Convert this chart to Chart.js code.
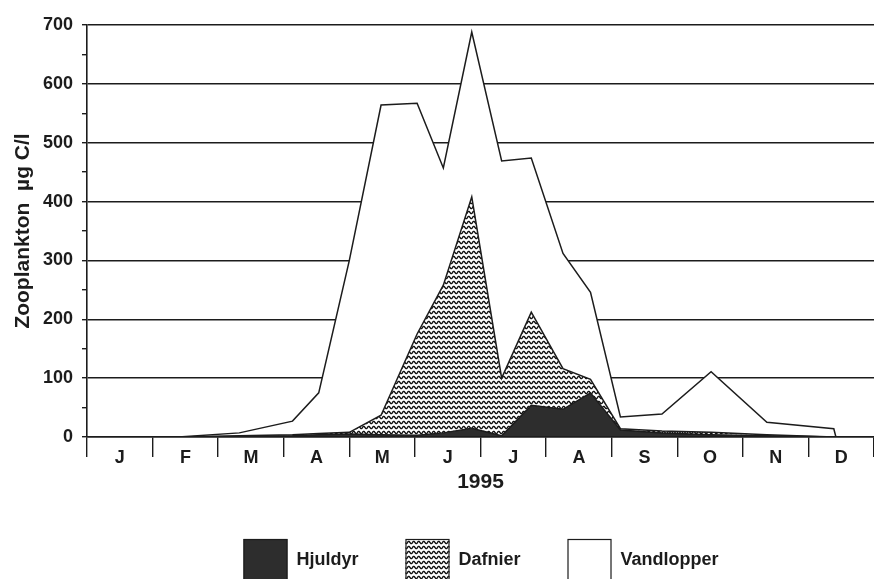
<!DOCTYPE html>
<html>
<head>
<meta charset="utf-8">
<script src="https://cdn.jsdelivr.net/npm/chart.js@4/dist/chart.umd.min.js"></script>
<style>
  html, body { margin: 0; padding: 0; background: #fff; overflow: hidden; }
  #wrap { width: 874px; height: 579px; }
</style>
</head>
<body>
<div id="wrap"><canvas id="c" width="874" height="579"></canvas></div>
<script>
// Zooplankton biomass 1995, µg C/l, per sampling date
const sampleDates = ['1995-02-12','1995-03-11','1995-04-05','1995-04-17','1995-05-01','1995-05-16',
                     '1995-06-02','1995-06-14','1995-06-27','1995-07-11','1995-07-25','1995-08-09',
                     '1995-08-22','1995-09-05','1995-09-24','1995-10-17','1995-11-12','1995-12-13','1995-12-14'];
const hjuldyr    = [0, 1, 2, 4, 5, 4, 3, 7, 15, 2, 54, 47, 75, 12, 7, 4, 2, 0, 0];
const dafnier    = [0, 1, 2, 2, 3, 33, 172, 251, 393, 98, 158, 69, 23, 2, 3, 4, 2, 0, 0];
const vandlopper = [0, 5, 23, 69, 292, 527, 392, 199, 280, 369, 262, 196, 148, 20, 29, 103, 21, 14, 0];
const monthLabels = ['J','F','M','A','M','J','J','A','S','O','N','D'];
const yearLabel = '1995';
const yTitle = 'Zooplankton  µg C/l';
const seriesNames = ['Hjuldyr', 'Dafnier', 'Vandlopper'];

// date -> position on a 0..12 month axis
function monthPos(iso) {
  const [y, m, d] = iso.split('-').map(Number);
  const days = new Date(y, m, 0).getDate();
  return (m - 1) + (d - 1) / days;
}
const xs = sampleDates.map(monthPos);
const pts = arr => arr.map((v, i) => ({ x: xs[i], y: v }));

// wavy horizontal hatch
function wavePattern() {
  const c = document.createElement('canvas');
  c.width = 5; c.height = 5;
  const g = c.getContext('2d');
  g.fillStyle = '#ffffff';
  g.fillRect(0, 0, 5, 5);
  g.strokeStyle = '#111111';
  g.lineWidth = 1.3;
  g.beginPath();
  for (let i = -2; i <= 12; i++) {
    const x = i * 0.5;
    const y = 2.5 + 1.2 * Math.sin(x / 5 * 2 * Math.PI);
    if (i === -2) g.moveTo(x, y); else g.lineTo(x, y);
  }
  g.stroke();
  return g.createPattern(c, 'repeat');
}

const INK = '#1c1c1c';
const FONT = "'Liberation Sans', Arial, sans-serif";

// legend drawn under the plot
const boxLegend = {
  id: 'boxLegend',
  afterDraw(chart) {
    const ctx = chart.ctx;
    const boxW = 44, boxH = 44, gapText = 9, spacing = 47;
    const cx = 481, cy = 560;
    ctx.save();
    ctx.font = 'bold 18px ' + FONT;
    const items = chart.data.datasets.map(ds => ({
      ds, w: boxW + gapText + ctx.measureText(ds.label).width
    }));
    const total = items.reduce((s, it) => s + it.w, 0) + spacing * (items.length - 1);
    let x = cx - total / 2;
    items.forEach(it => {
      const top = cy - 21;
      ctx.fillStyle = it.ds.backgroundColor;
      ctx.fillRect(x, top, boxW, boxH);
      ctx.lineWidth = 1.2;
      ctx.strokeStyle = INK;
      ctx.strokeRect(x + 0.5, top + 0.5, boxW - 1, boxH - 1);
      ctx.fillStyle = INK;
      ctx.textBaseline = 'middle';
      ctx.textAlign = 'left';
      ctx.fillText(it.ds.label, x + boxW + gapText, cy);
      x += it.w + spacing;
    });
    ctx.restore();
  }
};

const common = { borderColor: INK, borderWidth: 1.5, pointRadius: 0, tension: 0 };

new Chart(document.getElementById('c'), {
  type: 'line',
  data: {
    datasets: [
      Object.assign({ label: seriesNames[0], data: pts(hjuldyr), backgroundColor: '#2d2d2d', fill: 'origin' }, common),
      Object.assign({ label: seriesNames[1], data: pts(dafnier), backgroundColor: wavePattern(), fill: '-1' }, common),
      Object.assign({ label: seriesNames[2], data: pts(vandlopper), backgroundColor: '#ffffff', fill: '-1' }, common)
    ]
  },
  options: {
    responsive: false,
    animation: false,
    layout: { padding: { top: 25, right: 0, bottom: 80, left: 0 } },
    plugins: { legend: { display: false }, tooltip: { enabled: false } },
    scales: {
      x: { type: 'linear', min: 0, max: 12, display: false },
      months: {
        type: 'category',
        labels: monthLabels,
        position: 'bottom',
        offset: true,
        grid: { offset: true, drawOnChartArea: false, tickLength: 20, color: INK, lineWidth: 1.4 },
        border: { display: true, color: INK, width: 1.6, z: 1 },
        ticks: { padding: -10, color: INK, font: { family: FONT, size: 18, weight: 'bold' }, maxRotation: 0, autoSkip: false },
        title: { display: true, text: yearLabel, color: INK, font: { family: FONT, size: 21, weight: 'bold' }, padding: { top: 0, bottom: 4 } },
        afterFit(s) { s.height = 62; }
      },
      y: {
        stacked: true,
        min: 0, max: 700,
        ticks: {
          stepSize: 50, padding: 9, color: INK, autoSkip: false,
          font: { family: FONT, size: 18, weight: 'bold' },
          callback: v => (v % 100 === 0 ? v : '')
        },
        grid: {
          color: c => (c.tick && c.tick.value % 100 === 0 ? INK : 'rgba(0,0,0,0)'),
          tickColor: INK, tickLength: 5, lineWidth: 1.4
        },
        border: { color: INK, width: 1.6 },
        title: { display: true, text: yTitle, color: INK, font: { family: FONT, size: 21, weight: 'bold' }, padding: { top: 11, bottom: 0 } },
        afterFit(s) { s.width = 87; }
      }
    }
  },
  plugins: [boxLegend]
});
</script>
</body>
</html>
